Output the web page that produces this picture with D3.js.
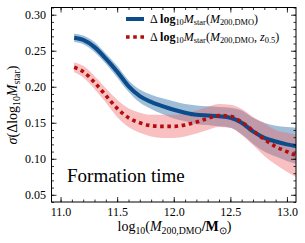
<!DOCTYPE html>
<html><head><meta charset="utf-8">
<script src="https://cdn.jsdelivr.net/npm/d3@7"></script>
<style>
body{margin:0;background:#fff}
svg{display:block}
svg text{font-family:"Liberation Serif","Times New Roman",serif;fill:#000}
</style>
</head><body>
<svg id="c" width="305" height="243"></svg>
<script>
// ---- data ----
const mass    = [11.12,11.2,11.3,11.4,11.5,11.6,11.7,11.8,11.9,12.0,12.1,12.2,12.3,12.4,12.5,12.6,12.7,12.8,12.9,13.0,13.1];
const blueMed = [0.268,0.265,0.255,0.239,0.221,0.201,0.187,0.179,0.173,0.168,0.164,0.161,0.160,0.159,0.157,0.150,0.138,0.129,0.124,0.120,0.117];
const blueLo  = [0.262,0.259,0.248,0.232,0.213,0.193,0.178,0.169,0.162,0.156,0.152,0.148,0.147,0.145,0.143,0.134,0.121,0.110,0.103,0.097,0.092];
const blueHi  = [0.274,0.271,0.262,0.246,0.229,0.209,0.196,0.189,0.184,0.180,0.176,0.174,0.173,0.172,0.171,0.167,0.157,0.150,0.146,0.144,0.143];
const redMed  = [0.227,0.221,0.206,0.188,0.170,0.157,0.150,0.146,0.145,0.145,0.147,0.151,0.156,0.160,0.159,0.151,0.139,0.127,0.117,0.110,0.103];
const redLo   = [0.220,0.213,0.197,0.178,0.158,0.144,0.136,0.131,0.129,0.129,0.131,0.135,0.140,0.144,0.143,0.133,0.119,0.104,0.092,0.082,0.073];
const redHi   = [0.234,0.229,0.215,0.198,0.182,0.170,0.164,0.161,0.161,0.161,0.163,0.167,0.172,0.176,0.175,0.169,0.158,0.149,0.140,0.136,0.133];
const xTicks  = [11.0,11.5,12.0,12.5,13.0];
const yTicks  = [0.05,0.10,0.15,0.20,0.25,0.30];
const annotation = "Formation time";

// ---- layout ----
const FONT='"Liberation Serif","Times New Roman",serif';
const m={l:51.5,r:296,t:7.5,b:202};
const svg=d3.select("#c");
const x=d3.scaleLinear().domain([10.92,13.08]).range([m.l,m.r]);
const y=d3.scaleLinear().domain([0.04,0.31]).range([m.b,m.t]);

svg.append("clipPath").attr("id","clip").append("rect")
  .attr("x",m.l).attr("y",m.t).attr("width",m.r-m.l).attr("height",m.b-m.t);
const g=svg.append("g").attr("clip-path","url(#clip)");

const curve=d3.curveMonotoneX;
const area=(lo,hi)=>d3.area().x((d,i)=>x(mass[i])).y0((d,i)=>y(lo[i])).y1((d,i)=>y(hi[i])).curve(curve)(mass);
const line=(v)=>d3.line().x((d,i)=>x(mass[i])).y((d,i)=>y(v[i])).curve(curve)(mass);

g.append("path").attr("d",area(blueLo,blueHi)).attr("fill","#2f6ea8").attr("fill-opacity",0.45);
g.append("path").attr("d",area(redLo,redHi)).attr("fill","#ee6a6a").attr("fill-opacity",0.42);
g.append("path").attr("d",line(blueMed)).attr("fill","none").attr("stroke","#0b4c8c").attr("stroke-width",4);
g.append("path").attr("d",line(redMed)).attr("fill","none").attr("stroke","#b80c0c").attr("stroke-width",3.6).attr("stroke-dasharray","3.6,3.6");

// ---- axes ----
const minorX=d3.range(10.9,13.09,0.1).map(v=>+v.toFixed(2)).filter(v=>v>=10.92&&v<=13.08);
const minorY=d3.range(0.04,0.311,0.01).map(v=>+v.toFixed(3));
function ax(axisFn,scale,ticks,size,tr){
  const a=axisFn(scale).tickValues(ticks).tickSize(size).tickFormat("");
  const sel=svg.append("g").attr("transform",tr).call(a);
  sel.select(".domain").remove();
  sel.selectAll("text").remove();
  sel.selectAll("line").attr("stroke","#000").attr("stroke-width",0.8);
  return sel;
}
const bx=ax(d3.axisBottom,x,xTicks,-5,`translate(0,${m.b})`);
bx.selectAll(".tick").append("text").attr("y",14).attr("text-anchor","middle")
  .attr("font-size",12).style("font-family",FONT).text(d=>d3.format(".1f")(d));
ax(d3.axisBottom,x,minorX,-2.5,`translate(0,${m.b})`);
ax(d3.axisTop,x,xTicks,-5,`translate(0,${m.t})`);
ax(d3.axisTop,x,minorX,-2.5,`translate(0,${m.t})`);
const ly=ax(d3.axisLeft,y,yTicks,-5,`translate(${m.l},0)`);
ly.selectAll(".tick").append("text").attr("x",-5.5).attr("dy","0.35em").attr("text-anchor","end")
  .attr("font-size",12).style("font-family",FONT).text(d=>d3.format(".2f")(d));
ax(d3.axisLeft,y,minorY,-2.5,`translate(${m.l},0)`);
ax(d3.axisRight,y,yTicks,-5,`translate(${m.r},0)`);
ax(d3.axisRight,y,minorY,-2.5,`translate(${m.r},0)`);

svg.append("rect").attr("x",m.l).attr("y",m.t).attr("width",m.r-m.l).attr("height",m.b-m.t)
  .attr("fill","none").attr("stroke","#000").attr("stroke-width",1);

// ---- labels ----
function rich(sel,parts,size){
  sel.style("font-family",FONT);
  parts.forEach(p=>{
    const t=sel.append("tspan").text(p.t);
    if(p.i) t.attr("font-style","italic");
    if(p.b) t.attr("font-weight","bold");
    if(p.sub){ t.attr("font-size",size*0.7).attr("baseline-shift","-25%"); }
    else t.attr("font-size",size);
  });
}
const xl=svg.append("text").attr("x",174.5).attr("y",231).attr("text-anchor","middle");
rich(xl,[{t:"log"},{t:"10",sub:1},{t:"("},{t:"M",i:1},{t:"200,DMO",sub:1},{t:"/M",b:1},{t:"⊙",sub:1},{t:")"}],14);
const yl=svg.append("text").attr("transform","translate(17,105) rotate(-90)").attr("text-anchor","middle");
rich(yl,[{t:"σ",i:1},{t:"(Δlog"},{t:"10",sub:1},{t:"M",i:1},{t:"star",sub:1},{t:")"}],14);

svg.append("text").attr("x",67).attr("y",182).attr("font-size",19).style("font-family",FONT).text(annotation);

// ---- legend ----
const lg=svg.append("g");
lg.append("line").attr("x1",126).attr("x2",144).attr("y1",19).attr("y2",19).attr("stroke","#0b4c8c").attr("stroke-width",4);
lg.append("line").attr("x1",126).attr("x2",144).attr("y1",37).attr("y2",37).attr("stroke","#b80c0c").attr("stroke-width",3.6).attr("stroke-dasharray","3.6,3.6");
const t1=lg.append("text").attr("x",150).attr("y",22.5);
rich(t1,[{t:"Δ "},{t:"log",b:1},{t:"10",sub:1},{t:"M",i:1},{t:"star",sub:1},{t:"("},{t:"M",i:1},{t:"200,DMO",sub:1},{t:")"}],12);
const t2=lg.append("text").attr("x",150).attr("y",40.5);
rich(t2,[{t:"Δ "},{t:"log",b:1},{t:"10",sub:1},{t:"M",i:1},{t:"star",sub:1},{t:"("},{t:"M",i:1},{t:"200,DMO",sub:1},{t:", "},{t:"z",i:1},{t:"0.5",sub:1},{t:")"}],12);
</script>
</body></html>
